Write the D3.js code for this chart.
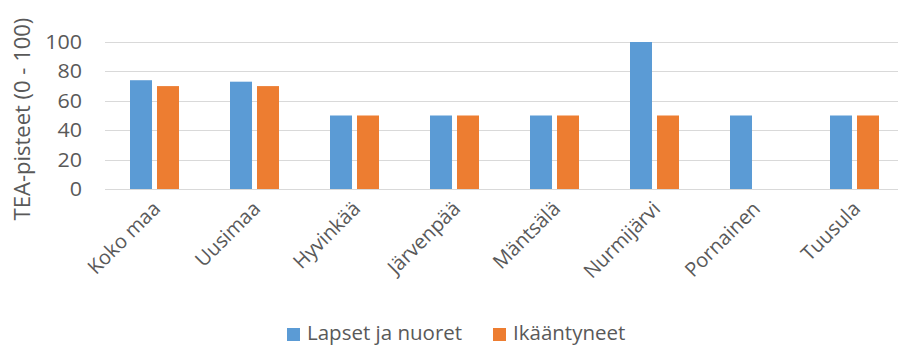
<!DOCTYPE html>
<html>
<head>
<meta charset="utf-8">
<script src="https://cdn.jsdelivr.net/npm/d3@7"></script>
<style>
  html, body { margin: 0; padding: 0; background: #fff; }
  svg { display: block; }
  text { font-family: "Open Sans", sans-serif; fill: #595959; }
</style>
</head>
<body>
<svg id="chart" width="898" height="350"></svg>
<script>
// TEA-pisteet by area, two population groups
const categories = ["Koko maa", "Uusimaa", "Hyvinkää", "Järvenpää", "Mäntsälä", "Nurmijärvi", "Pornainen", "Tuusula"];
const seriesNames = ["Lapset ja nuoret", "Ikääntyneet"];
const lapsetJaNuoret = [74, 73, 50, 50, 50, 100, 50, 50];
const ikaantyneet = [70, 70, 50, 50, 50, 50, null, 50];
const yTicks = [0, 20, 40, 60, 80, 100];
const yTitle = "TEA-pisteet (0 - 100)";
const colors = ["#5B9BD5", "#ED7D31"];

const seriesValues = [lapsetJaNuoret, ikaantyneet];
const W = 898, H = 350;
const svg = d3.select("#chart");

const x0 = d3.scaleBand().domain(categories).range([104.5, 904.5])
  .paddingInner(0.51).paddingOuter(0.255);
const x1 = d3.scaleBand().domain(seriesNames).range([0, x0.bandwidth()])
  .paddingInner(0.185);
const y = d3.scaleLinear().domain([0, 100]).range([189, 42]);

// horizontal gridlines
svg.append("g").selectAll("line").data(yTicks).join("line")
  .attr("x1", 105).attr("x2", W)
  .attr("y1", d => Math.round(y(d)) + 0.5).attr("y2", d => Math.round(y(d)) + 0.5)
  .attr("stroke", "#D9D9D9").attr("stroke-width", 1);

// y tick labels (slightly widened glyphs)
svg.append("g").selectAll("text").data(yTicks).join("text")
  .attr("transform", d => `translate(82,${y(d)}) scale(1.1,1)`)
  .attr("dy", "0.36em")
  .attr("text-anchor", "end").style("font-size", "19.5px")
  .text(d => d);

// y axis title
svg.append("text")
  .attr("transform", `translate(30,${119}) rotate(-90)`)
  .attr("text-anchor", "middle").style("font-size", "22px")
  .text(yTitle);

// bars
const groups = svg.append("g").selectAll("g").data(categories).join("g")
  .attr("transform", d => `translate(${x0(d)},0)`);
groups.selectAll("rect")
  .data((c, i) => seriesNames.map((s, k) => ({ s, k, v: seriesValues[k][i] })).filter(d => d.v != null))
  .join("rect")
  .attr("x", d => x1(d.s)).attr("width", x1.bandwidth())
  .attr("y", d => y(d.v)).attr("height", d => y(0) - y(d.v))
  .attr("fill", d => colors[d.k]);

// category labels, rotated
svg.append("g").selectAll("text").data(categories).join("text")
  .attr("transform", d => `translate(${x0(d) + x0.bandwidth() / 2 + 7},${210}) rotate(-45)`)
  .attr("text-anchor", "end").style("font-size", "20px")
  .text(d => d);

// legend
const legendX = [287, 493];
const lg = svg.append("g").selectAll("g").data(seriesNames).join("g")
  .attr("transform", (d, i) => `translate(${legendX[i]},328)`);
lg.append("rect").attr("width", 13).attr("height", 13).attr("fill", (d, i) => colors[i]);
lg.append("text").attr("x", 20).attr("y", 12).style("font-size", "20.5px").text(d => d);
</script>
</body>
</html>
